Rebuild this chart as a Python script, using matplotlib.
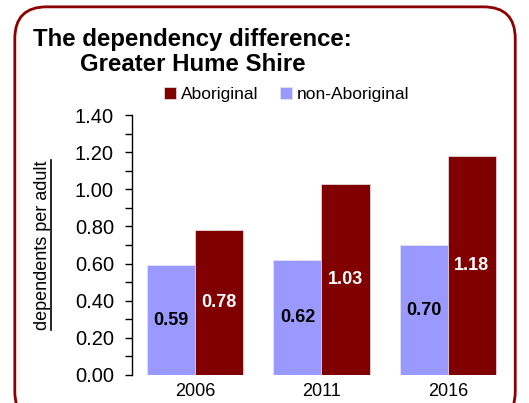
import matplotlib
matplotlib.use("Agg")
import matplotlib.pyplot as plt
import numpy as np
from matplotlib.patches import FancyBboxPatch
from matplotlib.lines import Line2D
from matplotlib.ticker import MultipleLocator

years = ["2006", "2011", "2016"]
non_aboriginal = [0.59, 0.62, 0.70]
aboriginal = [0.78, 1.03, 1.18]

ab_color = "#800000"
non_color = "#9999FF"
plt.rcParams["font.family"] = ["Liberation Sans", "DejaVu Sans"]

fig = plt.figure(figsize=(5.29, 4.03), dpi=100)
ax = fig.add_axes([0.2495, 0.0695, 0.7165, 0.645])

x = np.arange(len(years))
w = 0.38
b1 = ax.bar(x - w / 2, non_aboriginal, w, color=non_color, edgecolor="#e6e6f0", linewidth=0.5,
            label="non-Aboriginal")
b2 = ax.bar(x + w / 2, aboriginal, w, color=ab_color, edgecolor="#e6e6f0", linewidth=0.5,
            label="Aboriginal")

for xi, v in zip(x, non_aboriginal):
    ax.text(xi - w / 2, v / 2, f"{v:.2f}", ha="center", va="center",
            fontsize=13, fontweight="bold", color="black")
for xi, v in zip(x, aboriginal):
    ax.text(xi + w / 2, v / 2, f"{v:.2f}", ha="center", va="center",
            fontsize=13, fontweight="bold", color="white")

ax.set_xlim(-0.5, 2.5)
ax.set_ylim(0, 1.40)
ax.yaxis.set_major_locator(MultipleLocator(0.2))
ax.yaxis.set_minor_locator(MultipleLocator(0.1))
ax.yaxis.set_major_formatter(matplotlib.ticker.FormatStrFormatter("%.2f"))
ax.set_xticks(x)
ax.set_xticklabels(years)
ax.tick_params(axis="y", which="major", length=5, width=1, labelsize=14.5, pad=8)
ax.tick_params(axis="y", which="minor", length=5, width=1)
ax.tick_params(axis="x", length=0, labelsize=13, pad=6)
for s in ["top", "right", "bottom"]:
    ax.spines[s].set_visible(False)
ax.spines["left"].set_linewidth(1)

# y label, underlined
yl = fig.text(0.081, 0.392, "dependents per adult", rotation=90, ha="center", va="center",
              fontsize=13)
fig.canvas.draw()
bb = yl.get_window_extent().transformed(fig.transFigure.inverted())
fig.add_artist(Line2D([bb.x1 - 0.001, bb.x1 - 0.001], [bb.y0, bb.y1], color="black", lw=1.2))

# title
fig.text(0.062, 0.885, "The dependency difference:", fontsize=17.3, fontweight="bold",
         ha="left", va="baseline")
fig.text(0.151, 0.823, "Greater Hume Shire", fontsize=17.3, fontweight="bold",
         ha="left", va="baseline")

# legend
leg = fig.legend(handles=[b2, b1], labels=["Aboriginal", "non-Aboriginal"], ncol=2,
                 loc="center left", bbox_to_anchor=(0.31, 0.765), frameon=False,
                 handlelength=0.7, handleheight=0.7, handletextpad=0.3, columnspacing=1.2,
                 prop={"size": 12.5}, borderaxespad=0, borderpad=0)

# rounded border
fig.add_artist(FancyBboxPatch((0.028, -0.05), 0.946, 1.033,
                              boxstyle="round,pad=0,rounding_size=0.06",
                              transform=fig.transFigure, facecolor="none",
                              edgecolor="#8B0000", linewidth=2, mutation_aspect=529 / 403))

fig.savefig("out.png", dpi=100)
